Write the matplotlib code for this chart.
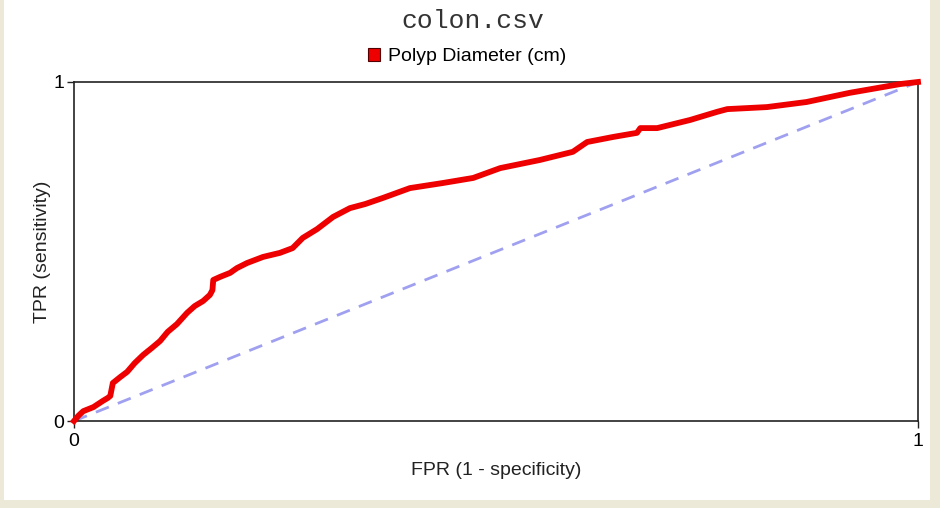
import matplotlib.pyplot as plt
from matplotlib.patches import Patch, Rectangle

# ROC curve
fpr = [0.0, 0.005, 0.011, 0.023, 0.034, 0.040, 0.043, 0.046, 0.055, 0.063,
       0.072, 0.082, 0.092, 0.102, 0.111, 0.122, 0.134, 0.143, 0.153, 0.161,
       0.164, 0.165, 0.173, 0.185, 0.193, 0.205, 0.224, 0.244, 0.259, 0.271,
       0.288, 0.307, 0.327, 0.345, 0.366, 0.398, 0.437, 0.473, 0.505, 0.552,
       0.591, 0.608, 0.639, 0.667, 0.671, 0.691, 0.730, 0.762, 0.774, 0.821,
       0.868, 0.919, 0.979, 1.0]
tpr = [0.0, 0.015, 0.029, 0.041, 0.059, 0.068, 0.074, 0.112, 0.130, 0.145,
       0.171, 0.195, 0.215, 0.236, 0.263, 0.286, 0.319, 0.339, 0.354, 0.372,
       0.386, 0.416, 0.425, 0.437, 0.451, 0.466, 0.484, 0.496, 0.510, 0.540,
       0.566, 0.602, 0.628, 0.640, 0.658, 0.687, 0.702, 0.717, 0.746, 0.770,
       0.794, 0.823, 0.838, 0.850, 0.864, 0.864, 0.888, 0.912, 0.920, 0.926,
       0.941, 0.968, 0.994, 1.0]
chance = [0, 1]

plt.rcParams['font.family'] = ['Liberation Sans', 'DejaVu Sans']

fig = plt.figure(figsize=(9.4, 5.08), dpi=100, facecolor='#ece9d8')
# white panel inside the window frame
fig.patches.append(Rectangle((4 / 940, 8 / 508), 926 / 940, 1, transform=fig.transFigure,
                             facecolor='white', edgecolor='none', zorder=-5))

ax = fig.add_axes([74 / 940, 87 / 508, 844 / 940, 339 / 508])
ax.set_zorder(2)
ax.plot(chance, chance, color='#a0a0f0', lw=2.0, ls=(0, (5, 3.5)), zorder=2)
ax.plot(fpr, tpr, color='#ee0000', lw=4.2, solid_joinstyle='round', zorder=3,
        clip_on=False)

ax.set_xlim(0, 1)
ax.set_ylim(0, 1)
ax.set_xticks([0, 1])
ax.set_yticks([0, 1])
ax.set_xticklabels(['0', '1'])
ax.set_yticklabels(['0', '1'])
ax.tick_params(labelsize=14, length=5, width=1, color='#222222', pad=2)
ax.tick_params(axis='x', pad=4)
for s in ax.spines.values():
    s.set_color('#222222')
    s.set_linewidth(1.2)

ax.set_xlabel('FPR (1 - specificity)', fontsize=14, labelpad=8, color='#222222')
ax.set_ylabel('TPR (sensitivity)', fontsize=14, labelpad=2, color='#222222')

fig.text(0.503, 0.958, 'colon.csv', family='Liberation Mono', fontsize=19,
         ha='center', va='center', color='#333333')

handle = Patch(facecolor='#ee0000', edgecolor='#550000', linewidth=0.8,
               label='Polyp Diameter (cm)')
fig.legend(handles=[handle], loc='center', bbox_to_anchor=(0.497, 0.888),
           frameon=False, fontsize=14, handlelength=0.6, handleheight=0.6,
           handletextpad=0.4, borderpad=0)

fig.savefig('out.png', dpi=100, facecolor=fig.get_facecolor())
